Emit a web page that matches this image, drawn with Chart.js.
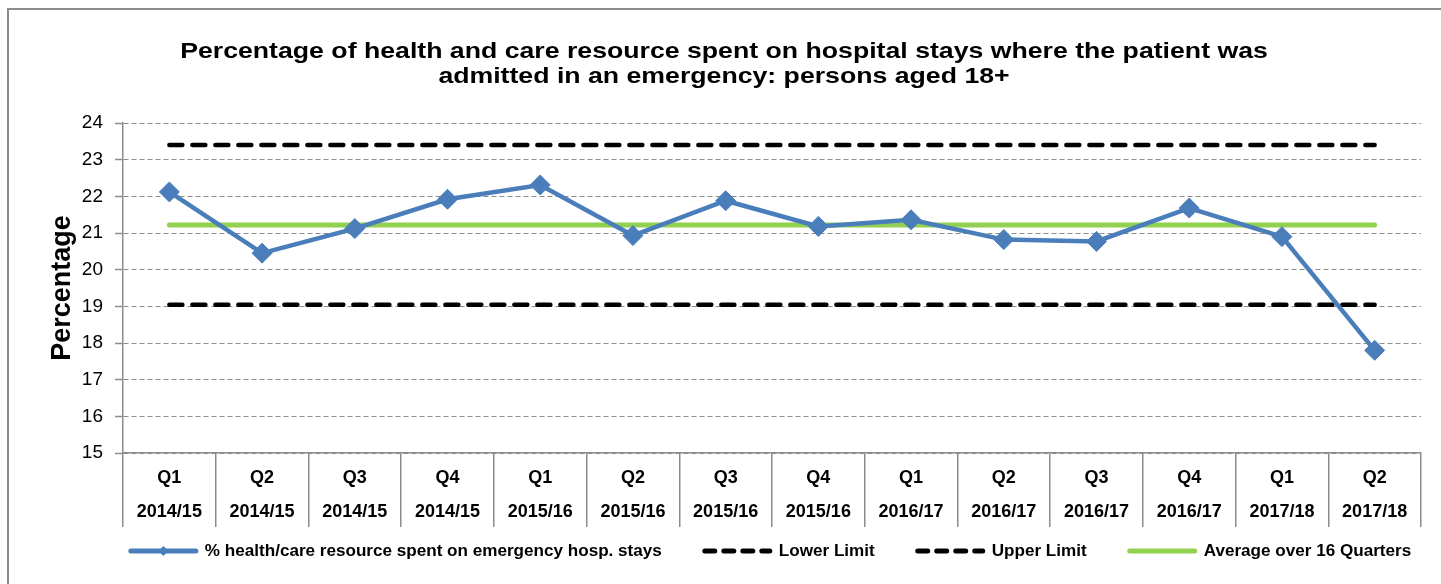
<!DOCTYPE html>
<html><head><meta charset="utf-8">
<script src="https://cdn.jsdelivr.net/npm/chart.js@4.4.0/dist/chart.umd.min.js"></script>
<style>
html,body{margin:0;padding:0;background:#fff;overflow:hidden;}
#wrap{position:relative;width:1441px;height:584px;overflow:hidden;}
#frame{position:absolute;left:7px;top:8px;width:2000px;height:2000px;border-top:2px solid #8c8c8c;border-left:2px solid #8c8c8c;}
canvas{position:absolute;left:0;top:0;}
</style></head><body>
<div id="wrap"><div id="frame"></div><canvas id="c" width="1441" height="584"></canvas></div>
<script>
const quarters = ['Q1','Q2','Q3','Q4','Q1','Q2','Q3','Q4','Q1','Q2','Q3','Q4','Q1','Q2'];
const years = ['2014/15','2014/15','2014/15','2014/15','2015/16','2015/16','2015/16','2015/16','2016/17','2016/17','2016/17','2016/17','2017/18','2017/18'];
const resourcePct = [22.12,20.45,21.12,21.92,22.31,20.93,21.88,21.18,21.36,20.82,20.77,21.68,20.90,17.80];
const lowerLimit = [19.04,19.04,19.04,19.04,19.04,19.04,19.04,19.04,19.04,19.04,19.04,19.04,19.04,19.04];
const upperLimit = [23.40,23.40,23.40,23.40,23.40,23.40,23.40,23.40,23.40,23.40,23.40,23.40,23.40,23.40];
const averageLine = [21.22,21.22,21.22,21.22,21.22,21.22,21.22,21.22,21.22,21.22,21.22,21.22,21.22,21.22];
const yTicks = [15,16,17,18,19,20,21,22,23,24];
const seriesNames = ['% health/care resource spent on emergency hosp. stays','Lower Limit','Upper Limit','Average over 16 Quarters'];
const titleLines = ['Percentage of health and care resource spent on hospital stays where the patient was','admitted in an emergency: persons aged 18+'];

const FONT = '"Liberation Sans", Arial, sans-serif';
const GRID = '#8c8c8c';

const titlePlugin = {
  id: 'wideTitle',
  afterDraw(chart, args, opts) {
    const ctx = chart.ctx;
    ctx.save();
    ctx.font = 'bold 22px ' + FONT;
    ctx.fillStyle = '#000';
    ctx.textAlign = 'center';
    ctx.textBaseline = 'middle';
    opts.lines.forEach((t, i) => {
      ctx.save();
      ctx.translate(opts.x, opts.y + i * opts.spacing);
      ctx.scale(opts.stretch, 1);
      ctx.fillText(t, 0, 0);
      ctx.restore();
    });
    ctx.restore();
  }
};

const legendPlugin = {
  id: 'customLegend',
  afterDraw(chart, args, opts) {
    const ctx = chart.ctx;
    ctx.save();
    ctx.font = 'bold 17.1px ' + FONT;
    const symW = 71, gapT = 6, gapI = 40;
    const items = chart.data.datasets.map((ds, i) => ({ds, i, w: symW + gapT + ctx.measureText(ds.label).width}));
    const total = items.reduce((s, it) => s + it.w, 0) + gapI * (items.length - 1);
    let x = opts.cx - total / 2;
    const y = opts.y;
    items.forEach(it => {
      const ds = it.ds;
      ctx.beginPath();
      ctx.strokeStyle = ds.borderColor;
      ctx.lineWidth = 5;
      ctx.lineCap = 'round';
      ctx.setLineDash(opts.dashes[it.i] || []);
      ctx.moveTo(x + 3, y);
      ctx.lineTo(x + symW - 3, y);
      ctx.stroke();
      ctx.setLineDash([]);
      if (ds.pointRadius > 0) {
        const cx = x + symW / 2, r = 5;
        ctx.beginPath();
        ctx.moveTo(cx, y - r); ctx.lineTo(cx + r, y); ctx.lineTo(cx, y + r); ctx.lineTo(cx - r, y); ctx.closePath();
        ctx.fillStyle = ds.pointBackgroundColor;
        ctx.fill();
      }
      ctx.fillStyle = '#000';
      ctx.textBaseline = 'middle';
      ctx.textAlign = 'left';
      ctx.fillText(ds.label, x + symW + gapT, y);
      x += it.w + gapI;
    });
    ctx.restore();
  }
};

new Chart(document.getElementById('c'), {
  type: 'line',
  data: {
    labels: quarters.map((q, i) => [q, years[i]]),
    datasets: [
      { label: seriesNames[0], data: resourcePct, borderColor: '#4a7ebb', backgroundColor: '#4a7ebb',
        pointBackgroundColor: '#4a7ebb', pointBorderColor: '#4a7ebb', borderWidth: 4.5, pointStyle: 'rectRot',
        pointRadius: 10, pointBorderWidth: 1, tension: 0, order: 0 },
      { label: seriesNames[1], data: lowerLimit, borderColor: '#000', borderWidth: 4.5, borderDash: [13, 10],
        borderCapStyle: 'round', pointRadius: 0, order: 2 },
      { label: seriesNames[2], data: upperLimit, borderColor: '#000', borderWidth: 4.5, borderDash: [13, 10],
        borderCapStyle: 'round', pointRadius: 0, order: 2 },
      { label: seriesNames[3], data: averageLine, borderColor: '#92d050', borderWidth: 5,
        borderCapStyle: 'round', pointRadius: 0, order: 1 }
    ]
  },
  options: {
    responsive: false,
    animation: false,
    devicePixelRatio: 1,
    layout: { padding: { left: 0, right: 20, top: 123, bottom: 57 } },
    plugins: {
      legend: { display: false },
      tooltip: { enabled: false },
      title: { display: false },
      wideTitle: { lines: titleLines, x: 724, y: 52, spacing: 25, stretch: 1.212 },
      customLegend: { y: 551, cx: 769.5, dashes: [[], [10, 9], [10, 9], []] }
    },
    scales: {
      x: {
        offset: true,
        grid: { display: true, offset: true, drawOnChartArea: false, drawTicks: true, tickLength: 74,
                tickColor: GRID, tickWidth: 1.5, color: GRID, lineWidth: 1.5 },
        border: { display: true, color: GRID, width: 1.5 },
        ticks: { autoSkip: false, maxRotation: 0, minRotation: 0, padding: -66, color: '#000',
                 font: { family: FONT, size: 18, weight: 'bold', lineHeight: 1.89 } },
        afterFit(s) { s.height = 74; }
      },
      y: {
        min: 15, max: 24,
        afterBuildTicks(s) { s.ticks = yTicks.map(v => ({ value: v })); },
        grid: { color: GRID, lineWidth: 1, drawTicks: true, tickLength: 8, tickColor: GRID, tickWidth: 1.5, tickBorderDash: [] },
        border: { display: true, color: GRID, width: 1.5, dash: [5, 3] },
        ticks: { padding: 12, color: '#000', font: { family: FONT, size: 19 } },
        title: { display: true, text: 'Percentage', color: '#000',
                 font: { family: FONT, size: 27, weight: 'bold', lineHeight: 1.2 },
                 padding: { top: 46, bottom: 0 } },
        afterFit(s) { s.width = 123; }
      }
    }
  },
  plugins: [titlePlugin, legendPlugin]
});
</script>
</body></html>
